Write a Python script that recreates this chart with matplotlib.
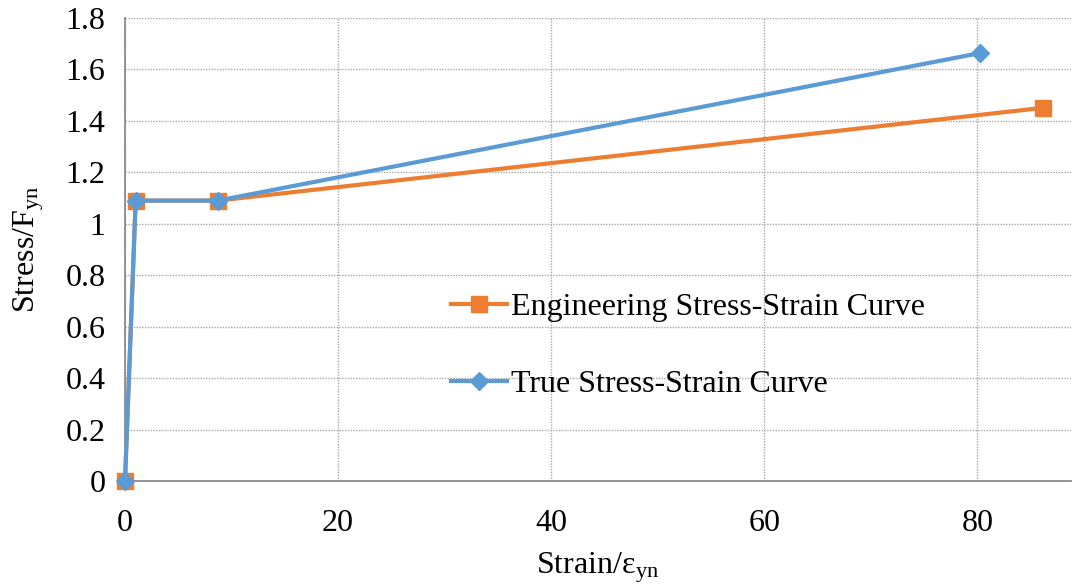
import matplotlib
matplotlib.use("Agg")
import matplotlib.pyplot as plt

# data
eng_strain = [0, 1.0, 8.7, 86.2]
eng_stress = [0, 1.09, 1.09, 1.451]
true_strain = [0, 1.0, 8.7, 80.3]
true_stress = [0, 1.09, 1.09, 1.664]

x_ticks = [0, 20, 40, 60, 80]
y_ticks = [0, 0.2, 0.4, 0.6, 0.8, 1.0, 1.2, 1.4, 1.6, 1.8]
y_labels = ["0", "0.2", "0.4", "0.6", "0.8", "1", "1.2", "1.4", "1.6", "1.8"]

plt.rcParams["font.family"] = ["Liberation Serif", "DejaVu Serif"]
plt.rcParams["mathtext.fontset"] = "stix"

ORANGE = "#ED7D31"
BLUE = "#5B9BD5"
FS = 23

fig = plt.figure(figsize=(10.73, 5.88), dpi=100)
ax = fig.add_axes([125 / 1073, 1 - 481 / 588, (1071 - 125) / 1073, (481 - 18) / 588])

ax.plot(eng_strain, eng_stress, color=ORANGE, lw=3, marker="s", ms=11,
        label="Engineering Stress-Strain Curve", zorder=3, clip_on=False)
ax.plot(true_strain, true_stress, color=BLUE, lw=3, marker="D", ms=9.5,
        label="True Stress-Strain Curve", zorder=4, clip_on=False)

ax.set_xlim(0, 88.8)
ax.set_ylim(0, 1.8)
ax.set_xticks(x_ticks)
ax.set_yticks(y_ticks)
ax.set_yticklabels(y_labels)
ax.tick_params(length=0, labelsize=FS)
ax.tick_params(axis="x", pad=20)
ax.tick_params(axis="y", pad=14)

ax.grid(True, color="#A8A8A8", linestyle=(0, (1, 1)), lw=1)
ax.set_axisbelow(True)
for s in ("top", "right"):
    ax.spines[s].set_visible(False)
for s in ("left", "bottom"):
    ax.spines[s].set_color("#8C8C8C")
    ax.spines[s].set_linewidth(1.3)

ax.set_xlabel("Strain/ε$_{\\mathregular{yn}}$", fontsize=FS, labelpad=9)
ax.set_ylabel("Stress/F$_{\\mathregular{yn}}$", fontsize=FS, labelpad=14)

ax.legend(loc="center left", bbox_to_anchor=(422 / 1073, 1 - 346 / 588),
          bbox_transform=fig.transFigure, frameon=False, fontsize=FS,
          handlelength=1.75, handletextpad=0.15, labelspacing=1.5)

fig.savefig("out.png", dpi=100)
